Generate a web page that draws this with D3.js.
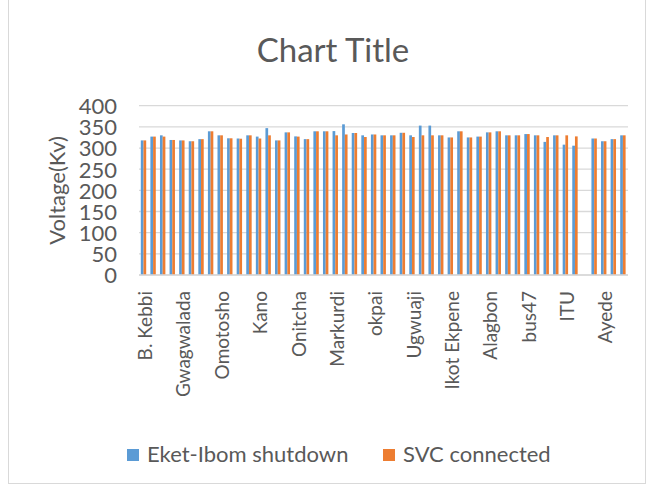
<!DOCTYPE html>
<html><head><meta charset="utf-8">
<script src="https://cdn.jsdelivr.net/npm/d3@7"></script>
<style>body{margin:0;background:#fff;} svg{display:block;}</style>
</head><body>
<svg id="chart" width="653" height="490"></svg>
<script>
const categories = ["B. Kebbi","Kainji","Jebba","Shiroro","Gwagwalada","Katampe","Osogbo","Olorunsogo","Omotosho","Egbin","Ikeja West","Akangba","Kano","Kaduna","Jos","Gombe","Onitcha","Alaoji","Afam","Owerri","Markurdi","Yola","Damaturu","Maiduguri","okpai","Okpai GS","Benin","Delta","Ugwuaji","New Haven","Ikot Ekpene","Calabar","Ikot Ekpene ","Odukpani","Adiabor","Aja","Alagbon","Lekki","Sapele","Geregu","bus47","Lokoja","Ajaokuta","Ihovbor","ITU","Eket","Ibom","Ayede ","Ayede","Ganmo","Papalanto"];
const series1 = [318,327,330,319,318,316,321,339.5,330,323,322.5,330,327,347,318,337,327.5,321,339.5,339.5,340,356,335.5,330,332,330,330,336,330,353,353,330,325,339.5,325,327,337,339.5,330,330,333,330,314.5,330,308,305.5,null,322.5,316,321,330];
const series2 = [318,327,327,319,318,316,321,339.5,330,323,322,330,322.5,330,318,337,327,321,339.5,339.5,330,332,335.5,326,332,330,330,336,326,330,330,330,325,339.5,325,327,337,339.5,330,330,333,330,326,330,330,327.5,null,322.5,316,321,330];
const seriesNames = ["Eket-Ibom shutdown","SVC connected"];
const yTicks = [0,50,100,150,200,250,300,350,400];
const colors = ["#5B9BD5","#ED7D31"];
const font = "Lato, 'Open Sans', sans-serif";
const textColor = "#595959";

const svg = d3.select("#chart");
svg.append("rect").attr("x",8.5).attr("y",-1).attr("width",637).attr("height",484.5)
  .attr("fill","#fff").attr("stroke","#D9D9D9").attr("stroke-width",1);

const pLeft=139, pRight=628, pTop=105.7, pBottom=275;
const x = d3.scaleBand().domain(d3.range(categories.length)).range([pLeft,pRight]).paddingInner(0).paddingOuter(0);
const y = d3.scaleLinear().domain([0,400]).range([pBottom,pTop]);

// grid
svg.append("g").selectAll("line").data(yTicks).join("line")
  .attr("x1",pLeft).attr("x2",pRight).attr("y1",d=>y(d)).attr("y2",d=>y(d))
  .attr("stroke","#D9D9D9").attr("stroke-width",1.3);

// bars
const bw = 2.7;
const data = [series1, series2];
data.forEach((s,si)=>{
  svg.append("g").selectAll("rect").data(s.map((v,i)=>({v,i})).filter(d=>d.v!=null)).join("rect")
    .attr("x",d=>x(d.i)+x.bandwidth()/2 - bw + si*bw - 0.3)
    .attr("width",bw)
    .attr("y",d=>y(d.v))
    .attr("height",d=>y(0)-y(d.v))
    .attr("fill",colors[si]);
});

// baseline
svg.append("line").attr("x1",pLeft).attr("x2",pRight).attr("y1",y(0)).attr("y2",y(0))
  .attr("stroke","#D9D9D9").attr("stroke-width",1.3);

// y axis labels
const yAxis = d3.axisLeft(y).tickValues(yTicks).tickSize(0).tickPadding(0);
const ya = svg.append("g").attr("transform",`translate(117,0)`).call(yAxis);
ya.select(".domain").remove();
ya.selectAll("text").attr("font-family",font).attr("font-size",22).attr("fill",textColor).attr("dy","0.36em");

// x axis labels
const xAxis = d3.axisBottom(x).tickValues(d3.range(0,categories.length,4)).tickFormat(i=>categories[i]).tickSize(0).tickPadding(0);
const xa = svg.append("g").attr("transform",`translate(0,${pBottom})`).call(xAxis);
xa.select(".domain").remove();
xa.selectAll("text").attr("font-family",font).attr("font-size",19).attr("fill",textColor)
  .attr("text-anchor","end").attr("transform","rotate(-90)").attr("x",-16).attr("y",0).attr("dy","0.36em");
xa.selectAll(".tick").each(function(){
  const g=d3.select(this); const tr=g.attr("transform"); const m=/translate\(([-\d.]+),/.exec(tr);
  g.attr("transform",`translate(${+m[1]+1.5},0)`);
});

// title
svg.append("text").attr("x",333).attr("y",62).attr("text-anchor","middle")
  .attr("font-family",font).attr("font-size",33).attr("fill",textColor).text("Chart Title");

// y title
svg.append("text").attr("transform",`translate(65,${(pTop+pBottom)/2}) rotate(-90)`).attr("text-anchor","middle")
  .attr("font-family",font).attr("font-size",22).attr("fill",textColor).text("Voltage(Kv)");

// legend
const lg = svg.append("g");
const legendX = [127,383];
seriesNames.forEach((n,i)=>{
  lg.append("rect").attr("x",legendX[i]).attr("y",449).attr("width",12).attr("height",12).attr("fill",colors[i]);
  lg.append("text").attr("x",legendX[i]+20).attr("y",462).attr("font-family",font).attr("font-size",22)
    .attr("fill",textColor).text(n);
});
</script>
</body></html>
